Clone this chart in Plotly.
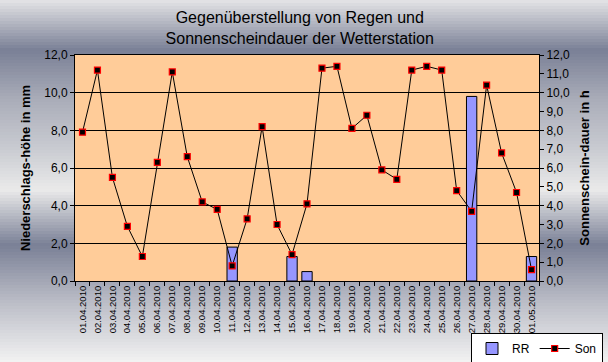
import plotly.graph_objects as go

dates = ["01.04.2010", "02.04.2010", "03.04.2010", "04.04.2010", "05.04.2010",
         "06.04.2010", "07.04.2010", "08.04.2010", "09.04.2010", "10.04.2010",
         "11.04.2010", "12.04.2010", "13.04.2010", "14.04.2010", "15.04.2010",
         "16.04.2010", "17.04.2010", "18.04.2010", "19.04.2010", "20.04.2010",
         "21.04.2010", "22.04.2010", "23.04.2010", "24.04.2010", "25.04.2010",
         "26.04.2010", "27.04.2010", "28.04.2010", "29.04.2010", "30.04.2010",
         "01.05.2010"]
rr = [None, None, None, None, None, None, None, None, None, None,
      1.8, None, None, None, 1.3, 0.5, None, None, None, None,
      None, None, None, None, None, None, 9.8, None, None, None, 1.3]
son = [7.9, 11.2, 5.5, 2.9, 1.3, 6.3, 11.1, 6.6, 4.2, 3.8,
       0.8, 3.3, 8.2, 3.0, 1.4, 4.1, 11.3, 11.4, 8.1, 8.8,
       5.9, 5.4, 11.2, 11.4, 11.2, 4.8, 3.7, 10.4, 6.8, 4.7, 0.6]

W, H = 608, 362
L, R, T, B = 75, 69, 55, 81
pw, ph = W - L - R, H - T - B

fig = go.Figure()
fig.add_trace(go.Bar(
    x=dates, y=rr, name="RR", yaxis="y",
    marker=dict(color="white", line=dict(color="black", width=1),
                pattern=dict(shape=".", fgcolor="#0000ff", bgcolor="white",
                             size=2, solidity=0.8)),
))
fig.add_trace(go.Scatter(
    x=dates, y=son, name="Son", yaxis="y2", mode="lines+markers",
    line=dict(color="black", width=1),
    marker=dict(symbol="square", size=6, color="black",
                line=dict(color="red", width=1.2)),
))

# background gradient (Excel style)
stops = [(0, (228, 228, 230)), (50, (122, 128, 150)), (100, (170, 173, 185)),
         (150, (202, 204, 210)), (190, (234, 234, 234)), (245, (122, 128, 150)),
         (300, (185, 187, 197)), (362, (242, 242, 242))]

def col_at(y):
    for (y0, c0), (y1, c1) in zip(stops[:-1], stops[1:]):
        if y0 <= y <= y1:
            t = (y - y0) / (y1 - y0)
            return tuple(int(round(a + (b - a) * t)) for a, b in zip(c0, c1))
    return stops[-1][1]

shapes = []
step = 3
for yp in range(0, H, step):
    c = col_at(yp + step / 2)
    shapes.append(dict(type="rect", xref="paper", yref="paper", layer="below",
                       x0=-L / pw - 0.01, x1=1 + R / pw + 0.01,
                       y0=(H - B - (yp + step)) / ph, y1=(H - B - yp) / ph,
                       line=dict(width=0), fillcolor="rgb(%d,%d,%d)" % c))
shapes.append(dict(type="rect", xref="paper", yref="paper", layer="below",
                   x0=0, x1=1, y0=0, y1=1, line=dict(width=0), fillcolor="#ffcc99"))

font = "Liberation Sans, Arial, sans-serif"
fig.update_layout(
    width=W, height=H,
    margin=dict(l=L, r=R, t=T, b=B, autoexpand=False),
    paper_bgcolor="#d0d2d8",
    plot_bgcolor="#ffcc99",
    separators=",.",
    font=dict(family=font, color="black", size=12),
    title=dict(text="Gegenüberstellung von Regen und<br>Sonnenscheindauer der Wetterstation",
               x=0.493, xanchor="center", y=1 - 23 / H, yanchor="middle",
               font=dict(size=16, color="black")),
    bargap=0.31,
    showlegend=True,
    legend=dict(orientation="h", x=(471 - L) / pw, xanchor="left",
                y=(H - B - 333) / ph, yanchor="top",
                bgcolor="white", bordercolor="black", borderwidth=1,
                font=dict(size=12), itemwidth=30, tracegroupgap=0),
    shapes=shapes,
    xaxis=dict(type="category", tickangle=-90, tickfont=dict(size=9.5),
               range=[-0.5, len(dates) - 0.5],
               showline=True, linecolor="black", linewidth=1, mirror=True,
               ticks="outside", ticklen=4, tickcolor="black", tickson="boundaries",
               showgrid=False, automargin=False),
    yaxis=dict(range=[0, 12], dtick=2, tickformat=".1f", tickfont=dict(size=12),
               showline=True, linecolor="black", linewidth=1, mirror=True,
               ticks="outside", ticklen=4, tickcolor="black", automargin=False,
               showgrid=True, gridcolor="black", gridwidth=1, zeroline=False,
               title=dict(text="<b>Niederschlags-höhe in mm</b>", font=dict(size=13),
                          standoff=10)),
    yaxis2=dict(range=[0, 12], dtick=1, tickformat=".1f", tickfont=dict(size=12),
                overlaying="y", side="right", automargin=False,
                showline=True, linecolor="black", linewidth=1,
                ticks="outside", ticklen=4, tickcolor="black",
                showgrid=False, zeroline=False,
                title=dict(text="<b>Sonnenschein-dauer in h</b>", font=dict(size=13),
                           standoff=10)),
)

fig.write_html("out.html", config={"displayModeBar": False},
               post_script="document.body.style.margin='0';document.body.style.padding='0';")
